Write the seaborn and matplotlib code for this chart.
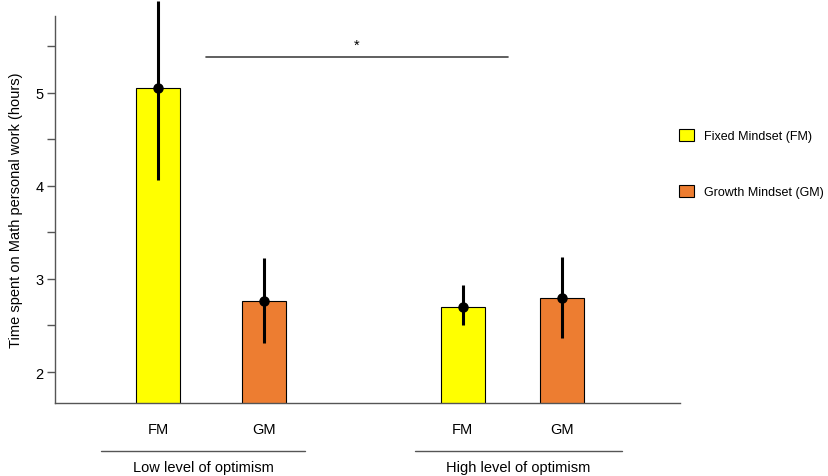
import pandas as pd
import matplotlib.pyplot as plt
import seaborn as sns

# data
groups = ['Low level of optimism', 'Low level of optimism',
          'High level of optimism', 'High level of optimism']
mindset = ['Fixed Mindset (FM)', 'Growth Mindset (GM)',
           'Fixed Mindset (FM)', 'Growth Mindset (GM)']
short = ['FM', 'GM', 'FM', 'GM']
means = [5.05, 2.76, 2.70, 2.79]
err_low = [4.06, 2.31, 2.50, 2.36]
err_high = [5.98, 3.22, 2.93, 3.23]
group_names = ['Low level of optimism', 'High level of optimism']

# bar positions on the x axis
pos = [0.0, 1.03, 2.96, 3.92]

df = pd.DataFrame({'pos': pos, 'mean': means, 'mindset': mindset,
                   'group': groups})

sns.set_style('white')
plt.rcParams['font.family'] = ['Liberation Sans', 'DejaVu Sans']
plt.rcParams['text.color'] = 'black'
plt.rcParams['axes.labelcolor'] = 'black'
plt.rcParams['xtick.color'] = 'black'
plt.rcParams['ytick.color'] = 'black'

fig = plt.figure(figsize=(8.29, 4.77), dpi=100)
ax = fig.add_axes([0.0663, 0.153, 0.754, 0.811])

palette = {'Fixed Mindset (FM)': '#FFFF00', 'Growth Mindset (GM)': '#ED7D31'}
sns.barplot(data=df, x='pos', y='mean', hue='mindset', native_scale=True,
            dodge=False, width=0.445, palette=palette, saturation=1,
            edgecolor='black', linewidth=0.8, errorbar=None, ax=ax)

# error bars and mean points
ax.vlines(df['pos'], err_low, err_high, color='black', linewidth=2.2,
          clip_on=False, zorder=3)
ax.plot(df['pos'], df['mean'], 'o', color='black', markersize=6.5,
        clip_on=False, zorder=4)

ax.set_xlim(-1.0, 5.07)
ax.set_ylim(1.667, 5.82)
ax.set_yticks([2, 3, 4, 5])
ax.set_yticks([2.5, 3.5, 4.5, 5.5], minor=True)
ax.set_xticks(pos, short)
ax.tick_params(axis='x', length=0, pad=14, labelsize=10.5)
ax.tick_params(axis='y', which='both', left=True, length=6, width=1,
               color='#555555', labelsize=10.5, pad=2)
ax.set_ylabel('Time spent on Math personal work (hours)', fontsize=10.5,
              labelpad=9)
ax.set_xlabel('')

for side in ['top', 'right']:
    ax.spines[side].set_visible(False)
for side in ['left', 'bottom']:
    ax.spines[side].set_color('#555555')
    ax.spines[side].set_linewidth(1)

# group lines and labels below the axis
trans = ax.get_xaxis_transform()
line_spans = [(-0.553, 1.427), (2.495, 4.505)]
for name, (x0, x1) in zip(group_names, line_spans):
    ax.plot([x0, x1], [-0.124, -0.124], color='#555555', linewidth=1,
            transform=trans, clip_on=False)
    ax.text((x0 + x1) / 2, -0.165, name, transform=trans, ha='center',
            va='center', fontsize=10.5)

# significance bracket
ax.plot([0.466, 3.398], [5.385, 5.385], color='#444444', linewidth=1.2)
ax.text(1.932, 5.44, '*', ha='center', va='bottom', fontsize=10.5)

sns.move_legend(ax, loc='upper left', bbox_to_anchor=(0.805, 0.752),
                bbox_transform=fig.transFigure, frameon=False, title=None,
                fontsize=9, labelspacing=3.4, handlelength=1.2,
                handleheight=1.2, handletextpad=0.8)

fig.savefig('out.png', dpi=100)
